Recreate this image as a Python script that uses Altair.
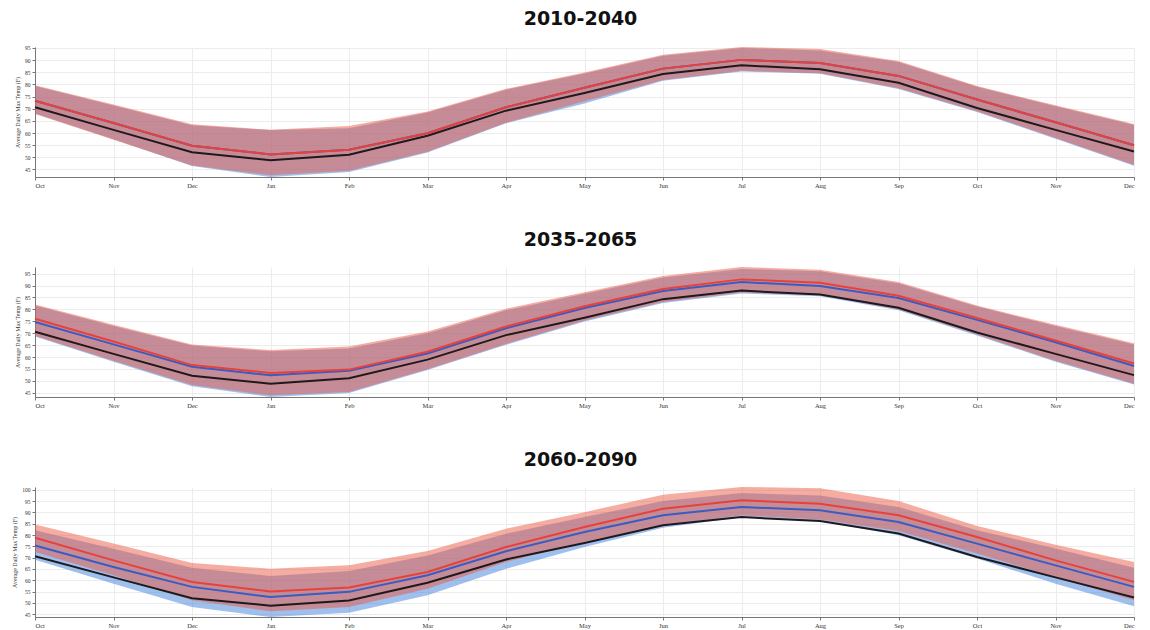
import json
import altair as alt
import pandas as pd

months = ["Oct", "Nov", "Dec", "Jan", "Feb", "Mar", "Apr", "May", "Jun",
          "Jul", "Aug", "Sep", "Oct", "Nov", "Dec"]
titles = ["2010-2040", "2035-2065", "2060-2090"]

# historical (black) line, same in every panel
hist = [70.6, 61.3, 52.1, 48.8, 51.1, 58.9, 69.2, 76.5, 84.3, 87.9, 86.2, 80.7, 70.3, 61.3, 52.4]

# 2010-2040
p1_red_line = [73.3, 64.1, 54.8, 51.2, 53.1, 59.9, 70.6, 78.6, 86.5, 90.1, 88.8, 83.5, 73.8, 64.4, 55.0]
p1_blue_line = [73.3, 64.1, 54.8, 51.2, 53.1, 59.9, 70.6, 78.6, 86.5, 90.1, 88.8, 83.5, 73.8, 64.4, 55.0]
p1_red_hi = [79.7, 71.7, 63.6, 61.3, 62.9, 68.9, 78.2, 84.9, 92.2, 95.4, 94.6, 89.6, 79.3, 71.4, 63.7]
p1_blue_hi = [79.4, 71.3, 63.2, 61.2, 62.0, 68.4, 77.8, 84.5, 91.8, 95.0, 94.0, 89.2, 79.0, 71.0, 63.3]
p1_red_lo = [67.8, 57.2, 46.6, 42.6, 44.5, 52.3, 64.2, 73.1, 81.8, 85.6, 84.6, 78.4, 69.0, 57.9, 46.8]
p1_blue_lo = [68.0, 57.4, 46.4, 41.9, 44.0, 52.0, 64.0, 72.1, 81.5, 85.3, 84.4, 78.1, 68.7, 57.6, 46.5]

# 2035-2065
p2_red_line = [76.1, 66.5, 56.6, 53.3, 54.7, 62.2, 72.8, 81.3, 88.6, 92.6, 91.2, 85.7, 76.4, 66.9, 57.3]
p2_blue_line = [74.7, 65.3, 55.9, 52.3, 54.2, 61.5, 72.1, 80.6, 87.7, 91.5, 89.8, 84.8, 75.6, 66.2, 56.2]
p2_red_hi = [82.0, 73.5, 65.3, 62.9, 64.4, 70.7, 80.3, 87.2, 94.0, 97.8, 96.6, 91.5, 81.6, 73.5, 65.8]
p2_blue_hi = [81.6, 73.0, 64.8, 62.4, 63.6, 70.0, 79.6, 86.6, 93.4, 97.0, 96.0, 91.0, 81.2, 73.0, 65.3]
p2_red_lo = [68.9, 58.4, 48.2, 43.9, 45.3, 54.9, 65.5, 75.3, 83.1, 87.1, 85.9, 80.0, 69.4, 58.4, 48.8]
p2_blue_lo = [68.6, 58.0, 47.7, 43.2, 44.9, 54.5, 65.1, 74.9, 82.7, 86.7, 85.5, 79.6, 69.0, 58.0, 48.4]

# 2060-2090
p3_red_line = [78.8, 68.8, 59.3, 55.1, 56.8, 63.7, 74.7, 83.5, 91.6, 95.3, 93.8, 88.7, 79.1, 68.8, 59.3]
p3_blue_line = [75.4, 65.9, 57.1, 52.6, 54.9, 62.2, 72.8, 81.3, 88.7, 92.4, 90.9, 85.7, 76.2, 66.6, 57.1]
p3_red_hi = [84.6, 76.2, 67.6, 65.1, 66.6, 72.9, 82.8, 90.1, 97.8, 101.2, 100.7, 95.0, 84.0, 75.7, 68.1]
p3_blue_hi = [82.1, 73.9, 65.6, 61.9, 64.1, 71.0, 80.6, 87.9, 95.0, 98.5, 97.5, 92.4, 82.1, 74.0, 65.6]
p3_red_lo = [72.5, 62.2, 51.2, 46.3, 48.2, 56.3, 68.1, 76.9, 84.3, 88.7, 86.9, 81.8, 71.8, 61.5, 51.2]
p3_blue_lo = [69.1, 58.5, 48.2, 43.8, 45.7, 53.4, 65.1, 74.7, 83.2, 87.9, 86.2, 79.9, 69.6, 58.5, 48.5]

y_ticks = [
    [45, 50, 55, 60, 65, 70, 75, 80, 85, 90, 95],
    [45, 50, 55, 60, 65, 70, 75, 80, 85, 90, 95],
    [45, 50, 55, 60, 65, 70, 75, 80, 85, 90, 95, 100],
]

panels = [
    (p1_red_line, p1_blue_line, p1_red_lo, p1_red_hi, p1_blue_lo, p1_blue_hi),
    (p2_red_line, p2_blue_line, p2_red_lo, p2_red_hi, p2_blue_lo, p2_blue_hi),
    (p3_red_line, p3_blue_line, p3_red_lo, p3_red_hi, p3_blue_lo, p3_blue_hi),
]

RED = "#ec5a44"
BLUE = "#3f80dc"
RED_LINE = "#e8413a"
BLUE_LINE = "#3a5cc2"
BLACK_LINE = "#1e1a1c"

label_expr = json.dumps(months) + "[datum.value]"
x_enc = alt.X(
    "idx:Q",
    scale=alt.Scale(domain=[0, len(months) - 1], nice=False, zero=False),
    axis=alt.Axis(values=list(range(len(months))), labelExpr=label_expr, title=None,
                  grid=True, gridColor="#ececec", domainColor="#777", tickColor="#777",
                  tickSize=3, labelFont="Liberation Serif", labelFontSize=6.5,
                  labelColor="#333", labelPadding=2),
)


def y_enc(field, ticks):
    return alt.Y(
        field + ":Q",
        scale=alt.Scale(zero=False, nice=False),
        axis=alt.Axis(values=ticks, title="Average Daily Max Temp (F)", grid=True,
                      gridColor="#ececec", domainColor="#777", tickColor="#777",
                      tickSize=3, labelFont="Liberation Serif", labelFontSize=5.5,
                      labelColor="#333", labelPadding=2, titleFont="Liberation Serif",
                      titleFontSize=6, titleFontWeight="normal", titleColor="#333",
                      titlePadding=4),
    )


charts = []
for i, (rl, bl, rlo, rhi, blo, bhi) in enumerate(panels):
    df = pd.DataFrame({
        "idx": list(range(len(months))),
        "month": months,
        "hist": hist,
        "red_line": rl,
        "blue_line": bl,
        "red_lo": rlo,
        "red_hi": rhi,
        "blue_lo": blo,
        "blue_hi": bhi,
    })
    base = alt.Chart(df)
    t = y_ticks[i]
    blue_band = base.mark_area(color=BLUE, opacity=0.5).encode(
        x=x_enc, y=y_enc("blue_lo", t), y2="blue_hi:Q")
    red_band = base.mark_area(color=RED, opacity=0.5).encode(
        x=x_enc, y=y_enc("red_lo", t), y2="red_hi:Q")
    black = base.mark_line(color=BLACK_LINE, strokeWidth=2).encode(
        x=x_enc, y=y_enc("hist", t))
    blue = base.mark_line(color=BLUE_LINE, strokeWidth=2).encode(
        x=x_enc, y=y_enc("blue_line", t))
    red = base.mark_line(color=RED_LINE, strokeWidth=2).encode(
        x=x_enc, y=y_enc("red_line", t))
    layer = alt.layer(blue_band, red_band, black, blue, red).properties(
        width=1099, height=130,
        title=alt.TitleParams(titles[i], font="DejaVu Sans", fontSize=19,
                              fontWeight="bold", color="#111", anchor="middle",
                              offset=17, dx=-4),
    )
    charts.append(layer)

chart = alt.vconcat(*charts, spacing=42).configure_view(stroke=None).properties(
    padding={"left": 3, "top": 1, "right": 0, "bottom": 0}
)

chart.save("out.html", embed_options={"renderer": "svg", "actions": False})
